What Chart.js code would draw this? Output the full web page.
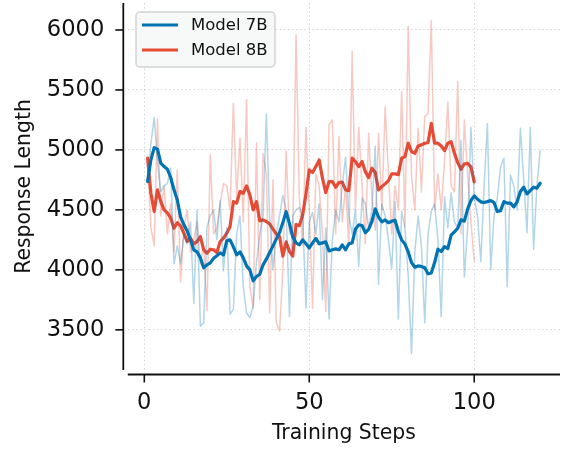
<!DOCTYPE html>
<html><head><meta charset="utf-8">
<script src="https://cdn.jsdelivr.net/npm/chart.js@4.4.0/dist/chart.umd.min.js"></script>
<style>html,body{margin:0;padding:0;background:#fff;}#wrap{width:571px;height:454px;}</style>
</head><body>
<div id="wrap"><canvas id="c" width="571" height="454"></canvas></div>
<script>
// ---- data ----
const seriesNames = ['Model 7B', 'Model 8B'];
const raw7B = [4740,5050,5270,4900,4650,4700,4720,4850,4050,4200,
  4050,4300,4220,4400,3720,4500,3530,3560,4360,4450,
  4500,4250,4580,3990,4350,3630,3670,4300,4450,3860,
  3640,3600,3700,4060,4300,4450,5300,4440,4000,4300,
  4450,4620,4500,3610,4450,4500,4520,4450,3680,4400,
  4480,4300,4550,3750,4350,3590,4250,4500,4400,4700,
  4940,4450,4300,4500,4030,4600,4550,4350,4500,5030,
  3880,4550,4450,4250,4010,4570,3590,4490,4350,3950,
  3300,4150,4450,4200,3560,4300,4490,4550,4250,3610,
  4610,4350,4640,4400,4350,5080,3940,4350,5190,4600,
  4450,4070,4700,5220,4000,4450,4600,4860,4930,3860,
  4790,4700,4500,5180,4750,4310,5190,4170,4700,5000];
const smooth7B = [4736,4917,5019,5006,4889,4861,4839,4770,4667,4583,
  4442,4375,4325,4250,4167,4150,4100,4017,4042,4058,
  4096,4117,4142,4125,4242,4250,4192,4125,4150,4100,
  4033,4000,3908,3944,3964,4042,4089,4144,4200,4256,
  4311,4394,4486,4386,4275,4225,4208,4250,4217,4183,
  4225,4262,4217,4225,4233,4158,4167,4175,4167,4208,
  4167,4217,4225,4340,4375,4370,4310,4338,4405,4508,
  4440,4400,4417,4393,4405,4414,4320,4250,4215,4150,
  4060,4022,4033,4028,4017,3967,3975,4061,4172,4153,
  4194,4178,4289,4317,4347,4417,4406,4506,4578,4617,
  4589,4567,4561,4569,4578,4561,4486,4494,4569,4556,
  4556,4525,4567,4653,4689,4633,4661,4689,4681,4722];
const raw8B = [4930,4350,4200,5260,4450,4700,4300,4550,4150,4830,
  3900,4350,4500,4150,4250,4400,4050,4200,3660,4960,
  4300,4350,4550,4720,4700,4500,5390,4600,5100,4400,
  5420,3860,3680,5060,3750,4970,4800,3640,4750,3560,
  3490,4000,4990,4300,4300,5960,4600,4200,5190,4500,
  3680,4800,4700,4300,3650,5210,5250,4300,5110,4400,
  4700,4200,5820,4500,5190,4700,4220,5140,4600,4330,
  5140,4500,5360,4800,4300,4700,4500,5490,4360,6030,
  4780,4500,5180,4650,5280,5300,6080,4500,4800,4500,
  4900,5400,4700,4650,5570,4300,5250,4800,4400,4070];
const smooth8B = [4931,4639,4486,4667,4569,4500,4475,4433,4347,4394,
  4367,4306,4236,4264,4217,4236,4278,4167,4139,4172,
  4167,4144,4236,4264,4306,4361,4569,4556,4653,4639,
  4700,4625,4500,4569,4408,4417,4403,4383,4339,4300,
  4278,4114,4233,4153,4114,4378,4368,4458,4633,4833,
  4811,4861,4917,4764,4644,4736,4736,4689,4728,4731,
  4667,4661,4931,4903,4861,4903,4819,4769,4847,4811,
  4667,4694,4717,4744,4800,4800,4794,4931,4944,5056,
  4986,4972,5033,5042,5056,5061,5222,5056,5056,5033,
  4994,5056,5069,4972,4894,4839,4883,4888,4858,4733];
const xTickValues = [0, 50, 100];
const yTickValues = [3500, 4000, 4500, 5000, 5500, 6000];

// ---- styles ----
const BLUE = '#0173B2', RED = '#E64B35';
const BLUE_FAINT = 'rgba(1,115,178,0.3)', RED_FAINT = 'rgba(230,75,53,0.3)';
const FONT = 'DejaVu Sans';

const toPts = arr => arr.map((v, i) => ({x: i + 1, y: v}));

const frame = {
  id: 'frame',
  afterDraw(chart) {
    const {ctx, chartArea: a, scales: {x, y}} = chart;
    const off = 4.5, tl = 8;
    const sx = a.left - off, sy = a.bottom + off;
    ctx.save();
    ctx.strokeStyle = '#111'; ctx.lineWidth = 1.8; ctx.lineCap = 'butt';
    ctx.beginPath(); ctx.moveTo(sx, a.top); ctx.lineTo(sx, a.bottom); ctx.stroke();
    ctx.beginPath(); ctx.moveTo(a.left, sy); ctx.lineTo(a.right, sy); ctx.stroke();
    ctx.lineWidth = 1.6;
    y.ticks.forEach(t => { const p = y.getPixelForValue(t.value);
      ctx.beginPath(); ctx.moveTo(sx - tl, p); ctx.lineTo(sx, p); ctx.stroke(); });
    x.ticks.forEach(t => { const p = x.getPixelForValue(t.value);
      ctx.beginPath(); ctx.moveTo(p, sy); ctx.lineTo(p, sy + tl); ctx.stroke(); });
    // legend
    const items = chart.data.datasets.filter(d => d.inLegend);
    const bx = 136, by = 12, bw = 139, bh = 55, r = 4;
    ctx.beginPath();
    ctx.moveTo(bx + r, by); ctx.lineTo(bx + bw - r, by); ctx.arcTo(bx + bw, by, bx + bw, by + r, r);
    ctx.lineTo(bx + bw, by + bh - r); ctx.arcTo(bx + bw, by + bh, bx + bw - r, by + bh, r);
    ctx.lineTo(bx + r, by + bh); ctx.arcTo(bx, by + bh, bx, by + bh - r, r);
    ctx.lineTo(bx, by + r); ctx.arcTo(bx, by, bx + r, by, r); ctx.closePath();
    ctx.fillStyle = 'rgba(246,247,247,0.92)'; ctx.fill();
    ctx.strokeStyle = '#d2d4d4'; ctx.lineWidth = 1.5; ctx.stroke();
    ctx.font = '16.5px "' + FONT + '"'; ctx.textBaseline = 'middle'; ctx.textAlign = 'left';
    items.forEach((d, i) => {
      const yy = 25 + i * 25;
      ctx.strokeStyle = d.borderColor; ctx.lineWidth = 3.2;
      ctx.beginPath(); ctx.moveTo(142, yy); ctx.lineTo(178, yy); ctx.stroke();
      ctx.fillStyle = '#111'; ctx.fillText(d.label, 191, yy + 1);
    });
    ctx.restore();
  }
};

const tickFont = {family: FONT, size: 22.6};
const titleFont = {family: FONT, size: 20.4};
const gridOpts = {color: 'rgba(0,0,0,0.17)', lineWidth: 1, drawTicks: false};
const borderOpts = {display: false, dash: [1.5, 2.6]};
const plainLabel = v => String(v);
const noEdgePad = s => { s.paddingTop = 0; s.paddingBottom = 0; s.paddingLeft = 0; s.paddingRight = 0; };
const faint = {borderWidth: 1.5, pointRadius: 0, tension: 0, borderJoinStyle: 'round'};
const bold = {borderWidth: 3.2, pointRadius: 0, tension: 0, borderJoinStyle: 'round', borderCapStyle: 'round'};

new Chart(document.getElementById('c'), {
  type: 'line',
  data: {
    datasets: [
      Object.assign({label: seriesNames[0] + ' raw', data: toPts(raw7B), borderColor: BLUE_FAINT}, faint),
      Object.assign({label: seriesNames[0], inLegend: true, data: toPts(smooth7B), borderColor: BLUE}, bold),
      Object.assign({label: seriesNames[1] + ' raw', data: toPts(raw8B), borderColor: RED_FAINT}, faint),
      Object.assign({label: seriesNames[1], inLegend: true, data: toPts(smooth8B), borderColor: RED}, bold)
    ]
  },
  options: {
    responsive: false, devicePixelRatio: 1, animation: false,
    layout: {padding: {left: 0, right: 11, top: 3, bottom: 0}},
    plugins: {legend: {display: false}, tooltip: {enabled: false}},
    scales: {
      x: {type: 'linear', min: -5, max: 126,
        afterFit(s) { s.height = 84; noEdgePad(s); },
        afterBuildTicks(s) { s.ticks = xTickValues.map(v => ({value: v})); },
        ticks: {font: tickFont, color: '#111', padding: 20, maxRotation: 0, callback: plainLabel},
        grid: gridOpts, border: borderOpts,
        title: {display: true, text: 'Training Steps', font: titleFont, color: '#111', padding: {top: 0, bottom: 8}}},
      y: {type: 'linear', min: 3165, max: 6225,
        afterFit(s) { s.width = 127.8; noEdgePad(s); },
        afterBuildTicks(s) { s.ticks = yTickValues.map(v => ({value: v})); },
        ticks: {font: tickFont, color: '#111', padding: 23.5, callback: plainLabel},
        grid: gridOpts, border: borderOpts,
        title: {display: true, text: 'Response Length', font: titleFont, color: '#111', padding: {top: 12, bottom: 0}}}
    }
  },
  plugins: [frame]
});
</script>
</body></html>
